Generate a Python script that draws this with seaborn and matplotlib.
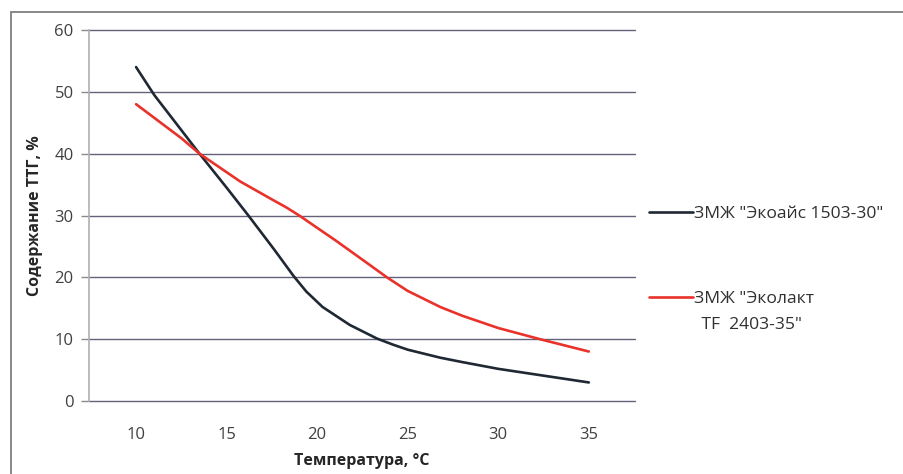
import pandas as pd
import numpy as np
import matplotlib
matplotlib.use("Agg")
import matplotlib.pyplot as plt
import seaborn as sns
from matplotlib.patches import Rectangle

# values (temperature, content)
temp_black = [10, 11, 12.5, 13.5, 15, 16.2, 17.6, 18.7, 19.4, 20.3, 21.8, 23.3,
              24.2, 25, 26.8, 28, 30, 32.5, 35]
ttg_black = [54, 49.5, 43.8, 40, 34.5, 30, 24.6, 20.2, 17.7, 15.2, 12.3, 10.1,
             9.1, 8.3, 7.0, 6.3, 5.2, 4.1, 3]
temp_red = [10, 11, 12.5, 13.5, 15, 15.75, 17.5, 18.3, 19.06, 20, 21, 22, 23, 23.85,
            25, 26.8, 28, 30, 32.3, 35]
ttg_red = [48, 45.8, 42.5, 40, 37, 35.5, 32.6, 31.3, 29.9, 28, 26, 23.9, 21.8, 20,
           17.8, 15.2, 13.8, 11.8, 10, 8]

name_black = 'ЗМЖ "Экоайс 1503-30"'
name_red = 'ЗМЖ "Эколакт TF  2403-35"'
x_ticks = [10, 15, 20, 25, 30, 35]
y_ticks = [0, 10, 20, 30, 40, 50, 60]

df = pd.concat([
    pd.DataFrame({'Температура': temp_black, 'ТТГ': ttg_black, 'Образец': name_black}),
    pd.DataFrame({'Температура': temp_red, 'ТТГ': ttg_red, 'Образец': name_red}),
])

sns.set_style("white")
plt.rcParams['font.family'] = ['Open Sans', 'DejaVu Sans']

fig = plt.figure(figsize=(9.04, 4.74), dpi=100)
ax = fig.add_axes([89 / 904, 73 / 474, 546 / 904, 371 / 474])

# outer frame of the chart (cropped at right and bottom)
fig.patches.append(Rectangle((11 / 904, -0.05), 1.2, 462 / 474 + 0.05,
                             transform=fig.transFigure, fill=False,
                             edgecolor='#7f7f7f', linewidth=1.3, zorder=0))

for y in y_ticks:
    ax.axhline(y, color='#62627a', linewidth=1.0, zorder=1, clip_on=False)

sns.lineplot(data=df, x='Температура', y='ТТГ', hue='Образец',
             palette={name_black: '#1f2833', name_red: '#e8322a'},
             linewidth=1.9, sort=False, estimator=None, ax=ax, zorder=3)

ax.set_xlim(7.4, 37.55)
ax.set_ylim(0, 60)
ax.set_xticks(x_ticks)
ax.set_yticks(y_ticks)
ax.tick_params(axis='y', length=6, width=1, color='#8a8a8a', pad=5,
               labelsize=12, labelcolor='#404040', direction='out', left=True)
ax.tick_params(axis='x', length=0, pad=19, labelsize=12, labelcolor='#404040')
for s in ['top', 'right', 'bottom']:
    ax.spines[s].set_visible(False)
ax.spines['left'].set_color('#b0b0b0')
ax.spines['left'].set_linewidth(1.2)

ax.set_xlabel('Температура, °C', fontsize=11.5, fontweight='bold', labelpad=7)
ax.set_ylabel('Содержание ТТГ, %', fontsize=11.5, fontweight='bold', labelpad=8)

# legend: the red label wraps, handle stays on its first line
handles, _ = ax.get_legend_handles_labels()
leg = ax.legend(handles, [name_black, 'ЗМЖ "Эколакт'], loc='upper left',
                bbox_to_anchor=(649 / 904, 1 - 206 / 474),
                bbox_transform=fig.transFigure, frameon=False, fontsize=12.6,
                handlelength=2.5, handletextpad=0.1, labelspacing=3.9,
                borderaxespad=0, borderpad=0)
for t in leg.get_texts():
    t.set_color('#303030')
fig.text(697 / 904, 1 - 325 / 474, ' TF  2403-35"', fontsize=12.6, color='#303030',
         va='center', ha='left')

fig.savefig('out.png', dpi=100)
